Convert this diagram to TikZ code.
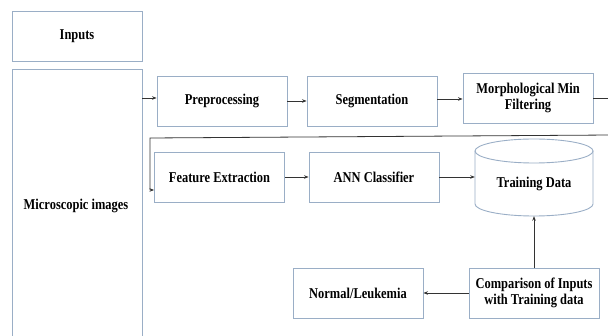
\documentclass[tikz,border=0pt]{standalone}
\usepackage{fontspec}
\setmainfont{Liberation Serif}[FakeStretch=0.83]
\usetikzlibrary{arrows.meta}
\definecolor{boxc}{HTML}{9AAEC6}
\definecolor{linec}{HTML}{333333}
\tikzset{
  blk/.style={draw=boxc, line width=0.9pt, fill=white, rectangle, minimum width=130pt, minimum height=50pt, inner sep=0pt, align=center, font=\fontsize{15}{16}\selectfont\bfseries},
  lbl/.style={inner sep=0pt, align=center, font=\fontsize{15}{16}\selectfont\bfseries},
  arr/.style={draw=linec, line width=0.8pt, -{Stealth[length=4.5pt,width=3.5pt]}},
  ln/.style={draw=linec, line width=0.8pt}
}
\begin{document}
\begin{tikzpicture}[x=1pt,y=-1pt]
\useasboundingbox (0,0) rectangle (608,336);
% left column
\node[blk] (inputs) at (77,36) {Inputs};
\node[blk, minimum height=274pt] (micro) at (77,206) {};
\node[lbl] (microtxt) at (76,206) {Microscopic images};
% top row
\node[blk] (pre) at (222,101) {Preprocessing};
\node[blk] (seg) at (372,101) {Segmentation};
\node[blk] (morph) at (528,98) {Morphological Min\\Filtering};
% middle row
\node[blk] (fe) at (219.5,177) {Feature Extraction};
\node[blk] (ann) at (374,177) {ANN Classifier};
% cylinder
\node[minimum width=118pt, minimum height=78pt, inner sep=0pt] (td) at (534,177) {};
\draw[draw=boxc, line width=0.9pt, fill=white]
  (475,151) -- (475,204) arc[start angle=180, end angle=360, x radius=59pt, y radius=12pt] -- (593,151);
\draw[draw=boxc, line width=0.9pt] (534,151) ellipse[x radius=59pt, y radius=12pt];
\node[lbl] (tdtxt) at (534,184) {Training Data};
% bottom row
\node[blk] (cmp) at (534,293) {Comparison of Inputs\\with Training data};
\node[blk] (nl) at (358,293) {Normal/Leukemia};
% connectors
\draw[arr] (micro.east |- 0,98) -- (pre.west |- 0,98);
\draw[arr] (pre.east) -- (seg.west);
\draw[arr] (seg.east |- 0,99) -- (morph.west |- 0,99);
\coordinate (r1) at (612,98);
\coordinate (r2) at (612,135);
\coordinate (k1) at (150,138);
\draw[ln] (morph.east) -- (r1);
\draw[arr] (r2) -- (k1) |- ([yshift=-13pt]fe.west);
\draw[arr] (fe.east) -- (ann.west);
\draw[arr] (ann.east) -- (td.west);
\draw[arr] (cmp.north) -- (td.south);
\draw[arr] (cmp.west) -- (nl.east);
\end{tikzpicture}
\end{document}
